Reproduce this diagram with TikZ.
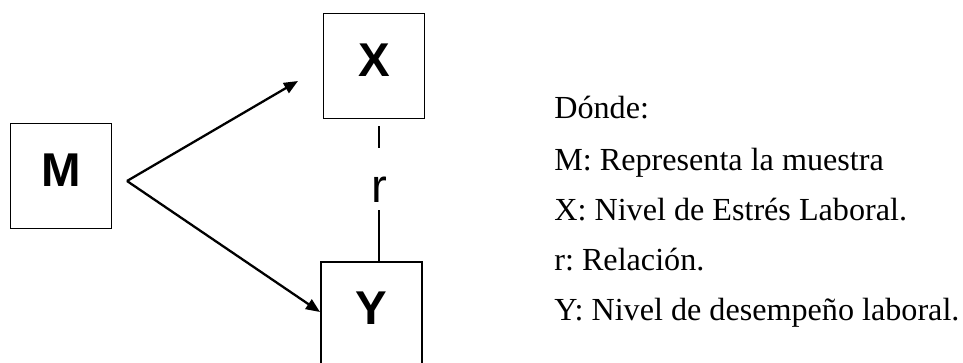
\documentclass[tikz,border=0pt]{standalone}
\usepackage{fontspec}
\setmainfont{Liberation Serif}
\newfontfamily\labelfont{Liberation Sans}
\usetikzlibrary{arrows.meta,positioning}
\frenchspacing

\begin{document}
\begin{tikzpicture}[x=0.02cm, y=-0.02cm, every node/.style={scale=1}]
  % Define dimensions
  \def\BoxW{2.02cm}
  \def\BoxH{2.1cm}
  \tikzset{
    varbox/.style={draw, line width=1.1pt, minimum width=\BoxW, minimum height=\BoxH,
                   inner sep=0pt, text depth=0.24cm,
                   font=\labelfont\bfseries\fontsize{27}{30}\selectfont},
    legend/.style={anchor=base west, inner sep=0pt, font=\fontsize{18.3}{20}\selectfont},
    link/.style={line width=1.3pt, -{Triangle[length=8pt,width=6.5pt]}}
  }
  \clip (0,0) rectangle (963,362);
  \useasboundingbox (0,0) rectangle (963,362);

  % Boxes
  \node[varbox] (M) at (61,176) {M};
  \node[varbox] (X) at (374,66) {X};
  \node[varbox] (Y) at (371.5,314.5) {Y};

  % Define points
  \coordinate (fork) at (127,181);
  \coordinate (tipX) at (298,81);
  \coordinate (rtop) at (379,148);
  \coordinate (rbot) at (379,210);

  % Arrows from the sample
  \draw[link] (fork) -- (tipX);
  \draw[link] (fork) -- (Y.west |- 0,312);

  % Relation line
  \node[anchor=base, inner sep=0pt, font=\labelfont\fontsize{27}{30}\selectfont] (r) at (379,202) {r};
  \draw[line width=1pt, shorten <=0.14cm] (rtop |- X.south) -- (rtop);
  \draw[line width=1pt] (rbot) -- (rbot |- Y.north);

  % Legend
  \node[legend] (donde) at (554,118) {Dónde:};
  \node[legend] (lm) at (554,170) {M: Representa la muestra};
  \node[legend] (lx) at (554,220) {X: Nivel de Estrés Laboral.};
  \node[legend] (lr) at (554,270) {r: Relación.};
  \node[legend] (ly) at (554,320) {Y: Nivel de desempeño laboral.};
\end{tikzpicture}
\end{document}
